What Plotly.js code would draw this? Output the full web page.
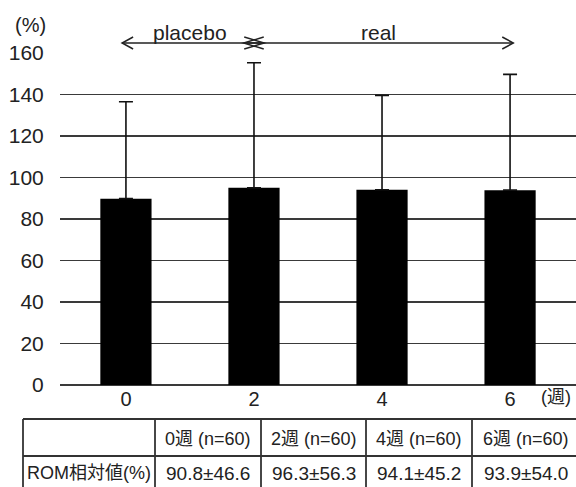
<!DOCTYPE html>
<html>
<head>
<meta charset="utf-8">
<script src="https://cdn.plot.ly/plotly-3.0.1.min.js"></script>
<style>html,body{margin:0;padding:0;background:#fff;}#chart{width:576px;height:487px;}</style>
</head>
<body>
<div id="chart"></div>
<script>
// ---- data ----
const weeks = [0, 2, 4, 6];
const weekLabels = ["0", "2", "4", "6"];
const barValues = [89.8, 95.0, 94.1, 93.9];      // bar heights
const errUpper = [46.7, 60.3, 45.5, 55.8];       // upper error bar lengths
const yTicks = [0, 20, 40, 60, 80, 100, 120, 140, 160];
const tableHeaders = ["0週 (n=60)", "2週 (n=60)", "4週 (n=60)", "6週 (n=60)"];
const tableRowLabel = "ROM相対値(%)";
const tableValues = ["90.8±46.6", "96.3±56.3", "94.1±45.2", "93.9±54.0"];
const phases = [
  {label: "placebo", from: -0.06, to: 2.16},
  {label: "real", from: 1.84, to: 6.05}
];

// ---- layout helpers (pixel -> paper) ----
const W = 576, H = 487, ML = 60, MR = 0, MT = 53, MB = 102;
const PW = W - ML - MR, PH = H - MT - MB;
const px = x => (x - ML) / PW;
const py = y => (H - MB - y) / PH;

const FONT = "Liberation Sans, Arial, Noto Sans CJK JP, sans-serif";
const TXT = "#222";

const trace = {
  type: "bar",
  x: weeks,
  y: barValues,
  width: 0.8,
  marker: {color: "#000", line: {width: 0}},
  error_y: {type: "data", symmetric: false, array: errUpper, arrayminus: weeks.map(() => 0),
            color: "#111", thickness: 1.6, width: 7},
  hoverinfo: "none"
};

const shapes = [];
const annotations = [];

// phase arrows (inner ends overlap to form the "×" at week 2)
const arrowY = py(43);
const headLen = (xv) => (xv > 1 && xv < 3) ? 20 : 11;
phases.forEach(p => {
  shapes.push({type: "line", xref: "x", yref: "paper", x0: p.from, x1: p.to, y0: arrowY, y1: arrowY,
               line: {color: TXT, width: 1.5}});
  const lf = headLen(p.from), lt = headLen(p.to);
  shapes.push({type: "path", xref: "x", yref: "paper", xsizemode: "pixel", ysizemode: "pixel",
               xanchor: p.from, yanchor: arrowY, path: `M ${lf} 6 L 0 0 L ${lf} -6`,
               line: {color: TXT, width: 1.5}});
  shapes.push({type: "path", xref: "x", yref: "paper", xsizemode: "pixel", ysizemode: "pixel",
               xanchor: p.to, yanchor: arrowY, path: `M ${-lt} 6 L 0 0 L ${-lt} -6`,
               line: {color: TXT, width: 1.5}});
  annotations.push({text: p.label, xref: "x", yref: "paper", x: (p.from + p.to) / 2 + (p.label === "real" ? 0 : -0.05),
                    y: py(32), showarrow: false, font: {family: FONT, size: 21, color: TXT},
                    xanchor: "center", yanchor: "middle"});
});

// axis unit labels
annotations.push({text: "(%)", xref: "paper", yref: "paper", x: px(30), y: py(25), showarrow: false,
                  font: {family: FONT, size: 20, color: TXT}, xanchor: "center", yanchor: "middle"});
annotations.push({text: "(週)", xref: "paper", yref: "paper", x: px(556), y: py(397), showarrow: false,
                  font: {family: FONT, size: 18, color: TXT}, xanchor: "center", yanchor: "middle"});

// table
const tTop = 419, tMid = 456, tBot = 495;
const colEdges = [23, 155, 261, 366, 472, 580];
const tLine = {color: "#333", width: 1.8};
[tTop, tMid].forEach(y => shapes.push({type: "line", xref: "paper", yref: "paper",
  x0: px(colEdges[0]), x1: px(colEdges[colEdges.length - 1]), y0: py(y), y1: py(y), line: tLine}));
colEdges.slice(0, -1).forEach(x => shapes.push({type: "line", xref: "paper", yref: "paper",
  x0: px(x), x1: px(x), y0: py(tTop), y1: py(tBot), line: tLine}));

const cellFont = {family: FONT, size: 18, color: TXT};
tableHeaders.forEach((h, i) => {
  annotations.push({text: h, xref: "paper", yref: "paper", x: px((colEdges[i + 1] + colEdges[i + 2]) / 2),
                    y: py(439), showarrow: false, font: cellFont, xanchor: "center", yanchor: "middle"});
});
annotations.push({text: tableRowLabel, xref: "paper", yref: "paper", x: px((colEdges[0] + colEdges[1]) / 2),
                  y: py(473), showarrow: false, font: cellFont, xanchor: "center", yanchor: "middle"});
tableValues.forEach((v, i) => {
  annotations.push({text: v, xref: "paper", yref: "paper", x: px((colEdges[i + 1] + colEdges[i + 2]) / 2),
                    y: py(473), showarrow: false, font: {family: FONT, size: 19, color: TXT},
                    xanchor: "center", yanchor: "middle"});
});

const layout = {
  width: W, height: H,
  margin: {l: ML, r: MR, t: MT, b: MB, pad: 0},
  paper_bgcolor: "#fff", plot_bgcolor: "#fff",
  showlegend: false,
  font: {family: FONT, color: TXT},
  xaxis: {range: [-1.03, 7.03], tickmode: "array", tickvals: weeks, ticktext: weekLabels,
          showgrid: false, zeroline: false, showline: false, ticks: "",
          tickfont: {family: FONT, size: 20, color: TXT}, fixedrange: true},
  yaxis: {range: [0, 160], tickmode: "array", tickvals: yTicks, ticktext: yTicks.map(String),
          showgrid: true, gridcolor: "#3a3a3a", gridwidth: 1.4,
          zeroline: true, zerolinecolor: "#3a3a3a", zerolinewidth: 1.4, showline: false,
          ticks: "outside", ticklen: 11, tickcolor: "rgba(0,0,0,0)",
          tickfont: {family: FONT, size: 21, color: TXT}, fixedrange: true},
  shapes: shapes,
  annotations: annotations
};

Plotly.newPlot("chart", [trace], layout, {displayModeBar: false, staticPlot: true});
</script>
</body>
</html>
